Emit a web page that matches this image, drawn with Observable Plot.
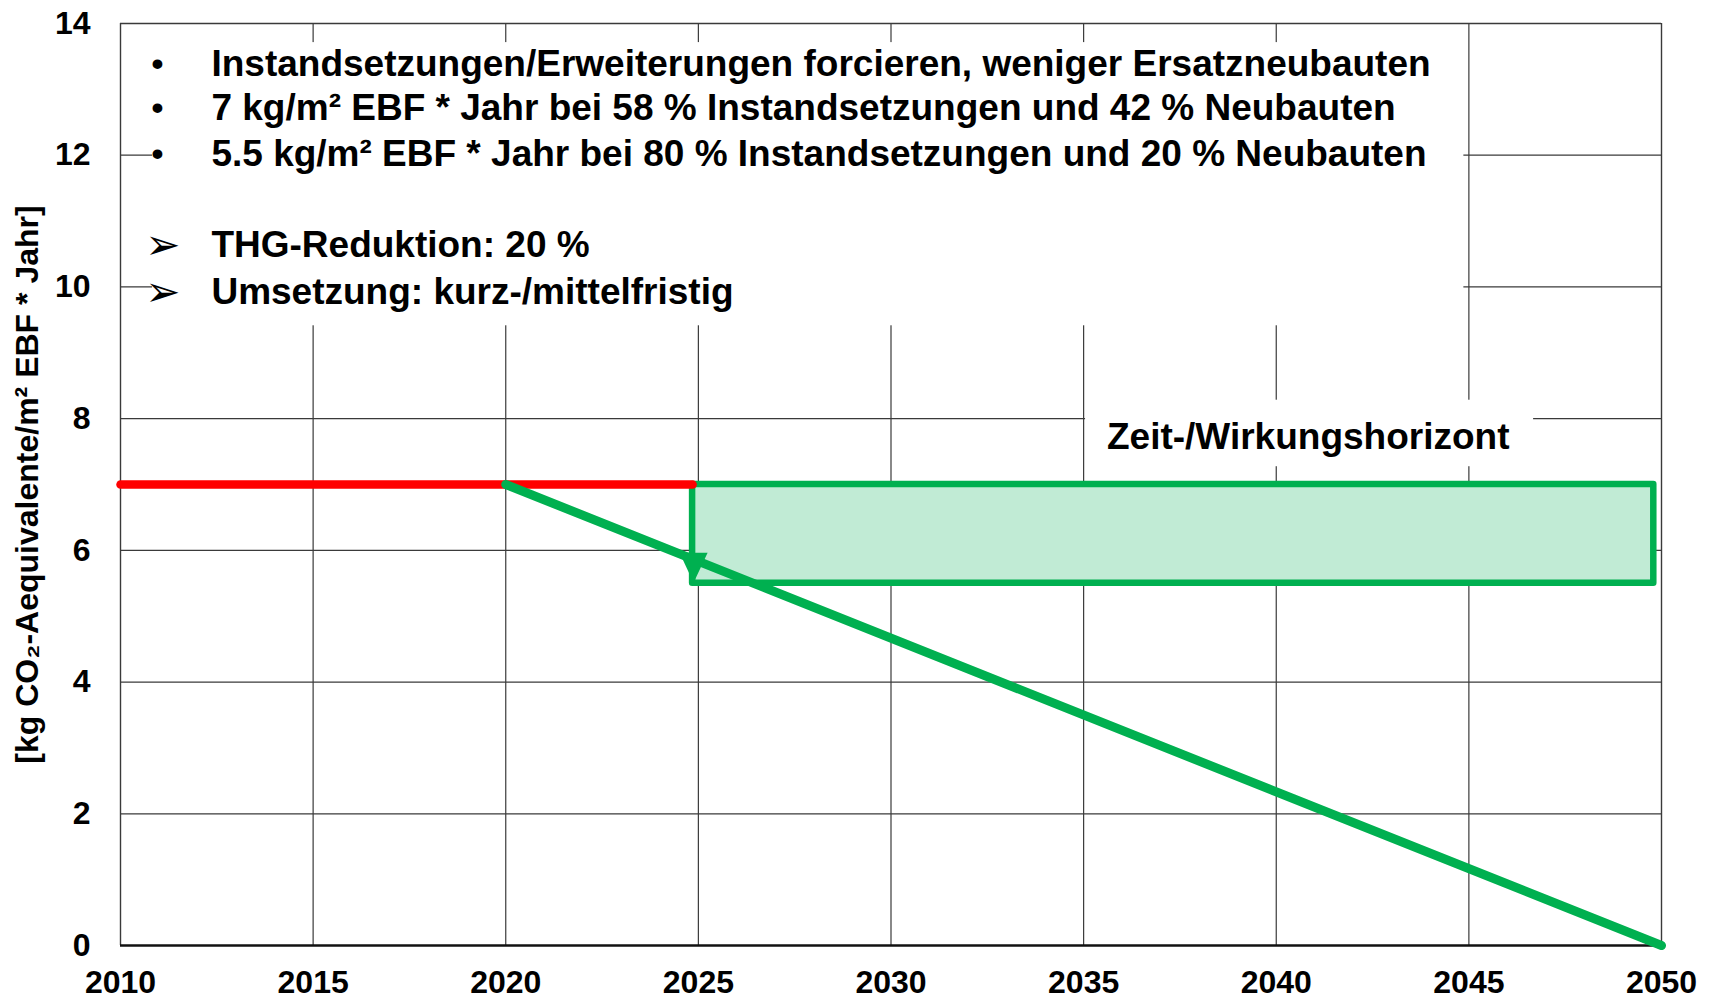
<!DOCTYPE html>
<html>
<head>
<meta charset="utf-8">
<script src="https://cdn.jsdelivr.net/npm/d3@7"></script>
<script src="https://cdn.jsdelivr.net/npm/@observablehq/plot@0.6"></script>
<style>
  html, body { margin: 0; padding: 0; background: #fff; }
  #chart svg { display: block; }
</style>
</head>
<body>
<div id="chart"></div>
<script>
// ---- data ----
const xTicks = [2010, 2015, 2020, 2025, 2030, 2035, 2040, 2045, 2050];
const yTicks = [0, 2, 4, 6, 8, 10, 12, 14];
const redYears = [2010, 2024.85];
const redValues = [7, 7];
const greenYears = [2020, 2050];
const greenValues = [7, 0];
const bandStart = [2024.85];
const bandEnd = [2049.8];
const bandLow = [5.5];
const bandHigh = [7];
const arrowTip = [5.54];
const bulletTexts = [
  "Instandsetzungen/Erweiterungen forcieren, weniger Ersatzneubauten",
  "7 kg/m² EBF * Jahr bei 58 % Instandsetzungen und 42 % Neubauten",
  "5.5 kg/m² EBF * Jahr bei 80 % Instandsetzungen und 20 % Neubauten"
];
const arrowTexts = [
  "THG-Reduktion: 20 %",
  "Umsetzung: kurz-/mittelfristig"
];
const horizonLabel = ["Zeit-/Wirkungshorizont"];
const yLabel = "[kg CO₂-Aequivalente/m² EBF * Jahr]";

// ---- layout ----
const bulletRows = [13.39, 12.71, 12.01];
const arrowRows = [10.63, 9.92];
const FONT = "'Liberation Sans', Arial, Helvetica, sans-serif";
const GREEN = "#00b050";

const red = redYears.map((x, i) => ({x, y: redValues[i]}));
const green = greenYears.map((x, i) => ({x, y: greenValues[i]}));
const band = bandStart.map((x1, i) => ({x1, x2: bandEnd[i], y1: bandLow[i], y2: bandHigh[i]}));

const downTriangle = {
  draw(ctx) {
    ctx.moveTo(1, 2);
    ctx.lineTo(-13, -28);
    ctx.lineTo(15, -28);
    ctx.closePath();
  }
};

const plot = Plot.plot({
  width: 1716,
  height: 1000,
  marginLeft: 120,
  marginRight: 55,
  marginTop: 23,
  marginBottom: 55,
  style: {fontFamily: FONT, background: "#fff", overflow: "visible"},
  x: {domain: [2010, 2050], ticks: xTicks, tickFormat: d => String(d)},
  y: {domain: [0, 14], ticks: yTicks},
  marks: [
    // grid
    Plot.ruleX(xTicks.slice(1, -1), {stroke: "#3a3a3a", strokeWidth: 1.2}),
    Plot.ruleY(yTicks.slice(1, -1), {stroke: "#3a3a3a", strokeWidth: 1.2}),
    // white annotation boxes
    Plot.rect([0], {x1: 2010.83, x2: 2044.87, y1: 9.41, y2: 13.71, fill: "white"}),
    Plot.rect([0], {x1: 2035.05, x2: 2046.68, y1: 7.27, y2: 8.28, fill: "white"}),
    // frame
    Plot.ruleX([2010, 2050], {stroke: "#3a3a3a", strokeWidth: 1.4}),
    Plot.ruleY([14], {stroke: "#3a3a3a", strokeWidth: 1.4}),
    Plot.ruleY([0], {stroke: "#111", strokeWidth: 2.6}),
    // band
    Plot.rect(band, {x1: "x1", x2: "x2", y1: "y1", y2: "y2", fill: "#c1ebd5", stroke: GREEN, strokeWidth: 6.5, strokeLinejoin: "round"}),
    // red line
    Plot.line(red, {x: "x", y: "y", stroke: "#ff0000", strokeWidth: 8.5}),
    // green line
    Plot.line(green, {x: "x", y: "y", stroke: GREEN, strokeWidth: 9}),
    // arrow head
    Plot.dot(bandStart.map((x, i) => ({x, y: arrowTip[i]})), {x: "x", y: "y", symbol: downTriangle, fill: GREEN, stroke: "none", r: 10}),
    // annotation texts
    Plot.text(bulletTexts, {x: 2010.96, y: (d, i) => bulletRows[i], text: () => "•", textAnchor: "middle", fontSize: 34, fontWeight: "bold", fill: "#000"}),
    Plot.text(bulletTexts, {x: 2012.36, y: (d, i) => bulletRows[i], text: d => d, textAnchor: "start", fontSize: 37, fontWeight: "bold", fill: "#000"}),
    Plot.text(arrowTexts, {x: 2011.1, y: (d, i) => arrowRows[i], text: () => "➢", textAnchor: "middle", fontSize: 42, fill: "#000", fontFamily: "DejaVu Sans"}),
    Plot.text(arrowTexts, {x: 2012.36, y: (d, i) => arrowRows[i], text: d => d, textAnchor: "start", fontSize: 37, fontWeight: "bold", fill: "#000"}),
    Plot.text(horizonLabel, {x: 2040.83, y: 7.72, text: d => d, textAnchor: "middle", fontSize: 37, fontWeight: "bold", fill: "#000"}),
    // axes
    Plot.axisX({ticks: xTicks, tickSize: 0, tickPadding: 25, fontSize: 32, fontWeight: "bold", label: null, tickFormat: d => String(d)}),
    Plot.axisY({ticks: yTicks, tickSize: 0, tickPadding: 30, fontSize: 32, fontWeight: "bold", label: null}),
    Plot.text([yLabel], {frameAnchor: "left", dx: -93, rotate: -90, textAnchor: "middle", text: d => d, fontSize: 32, fontWeight: "bold", fill: "#000"})
  ]
});

d3.select(plot).selectAll("g[aria-label='x-axis tick label'] text, g[aria-label='y-axis tick label'] text").attr("fill", "#000");
document.getElementById("chart").appendChild(plot);
</script>
</body>
</html>
